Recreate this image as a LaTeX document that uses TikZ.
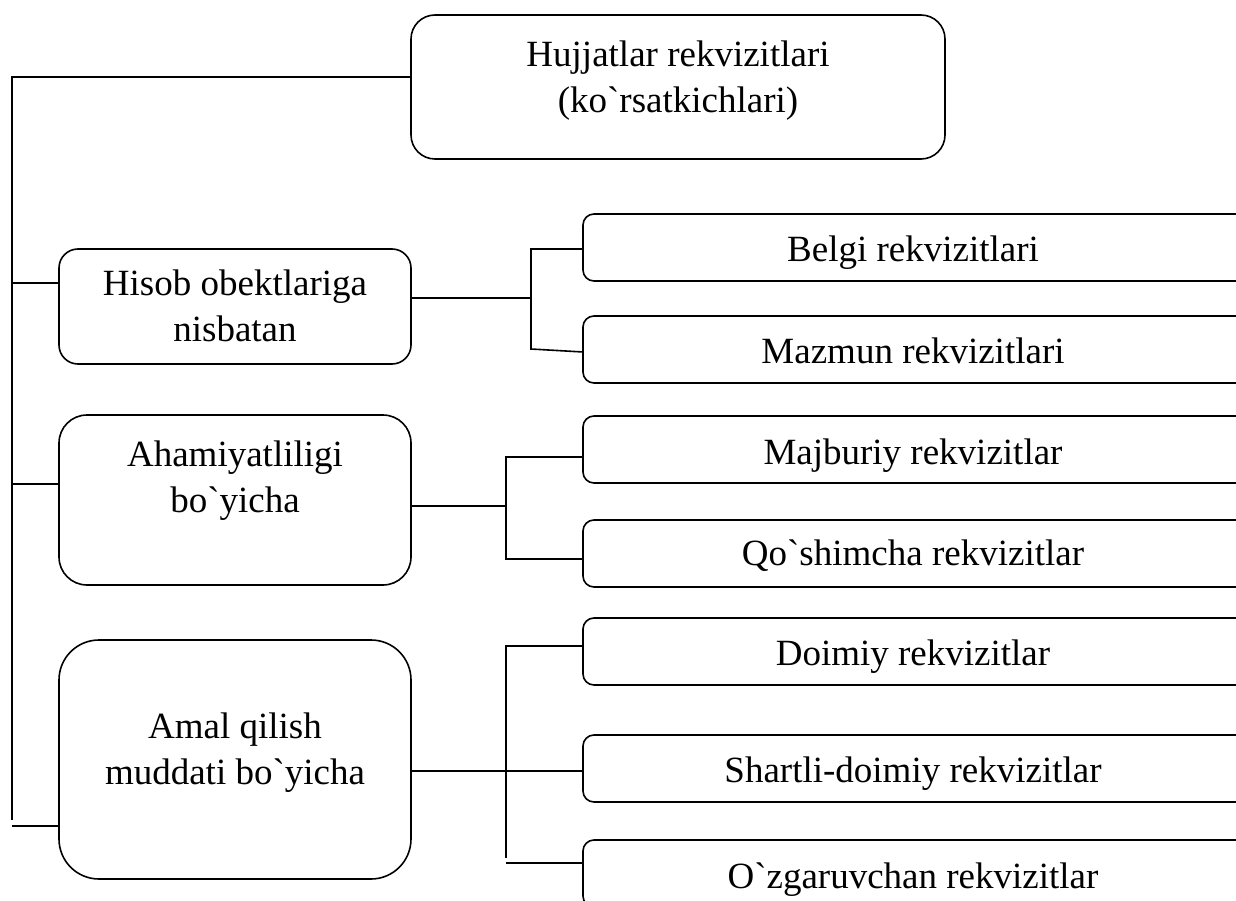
\documentclass[tikz,border=0pt]{standalone}
\usepackage{fontspec}
\setmainfont{Liberation Serif}[Ligatures=TeXOff]
\begin{document}
\begin{tikzpicture}[x=1pt,y=-1pt,
  frame/.style={draw, rectangle, line width=1.6pt, inner sep=0pt, outer sep=0pt},
  leftbox/.style={frame, minimum width=352pt},
  rightbox/.style={frame, minimum width=667pt, minimum height=67pt, rounded corners=11pt},
  lbl/.style={font=\fontsize{37}{46}\selectfont, align=center, inner sep=0pt, anchor=north},
  wire/.style={line width=1.6pt}]
\useasboundingbox (0,0) rectangle (1236,901);
\clip (0,0) rectangle (1236,901);

% main heading box
\node[frame, minimum width=534pt, minimum height=144pt, rounded corners=24pt] (root) at (678,87) {};
\node[lbl] (rootlbl) at (678,33.8) {Hujjatlar rekvizitlari\strut\\(ko`rsatkichlari)\strut};

% classification boxes on the left
\node[leftbox, minimum height=115pt, rounded corners=19pt] (hisob) at (235,306.5) {};
\node[lbl] (hisoblbl) at (235,262.8) {Hisob obektlariga\strut\\nisbatan\strut};

\node[leftbox, minimum height=170pt, rounded corners=28pt] (aham) at (235,500) {};
\node[lbl] (ahamlbl) at (235,433.8) {Ahamiyatliligi\strut\\bo`yicha\strut};

\node[leftbox, minimum height=239pt, rounded corners=40pt] (amal) at (235,759.5) {};
\node[lbl] (amallbl) at (235,705.8) {Amal qilish\strut\\muddati bo`yicha\strut};

% requisite boxes on the right
\node[rightbox] (belgi) at (916.5,247.5) {};
\node[lbl] (belgilbl) at (913,228.8) {Belgi rekvizitlari\strut};
\node[rightbox] (mazmun) at (916.5,349.5) {};
\node[lbl] (mazmunlbl) at (913,330.8) {Mazmun rekvizitlari\strut};

\node[rightbox] (majburiy) at (916.5,449.5) {};
\node[lbl] (majburiylbl) at (913,431.8) {Majburiy rekvizitlar\strut};
\node[rightbox] (qoshimcha) at (916.5,553.5) {};
\node[lbl] (qoshimchalbl) at (913,532.8) {Qo`shimcha rekvizitlar\strut};

\node[rightbox] (doimiy) at (916.5,651.5) {};
\node[lbl] (doimiylbl) at (913,632.8) {Doimiy rekvizitlar\strut};
\node[rightbox] (shartli) at (916.5,768.5) {};
\node[lbl] (shartlilbl) at (913,749.8) {Shartli-doimiy rekvizitlar\strut};
\node[rightbox] (ozgar) at (916.5,873.5) {};
\node[lbl] (ozgarlbl) at (913,855.8) {O`zgaruvchan rekvizitlar\strut};

% trunk on the left
\coordinate (t1) at (12,77);
\coordinate (t2) at (12,820);
\draw[wire] (root.west |- t1) -- (t1) -- (t2);
\coordinate (h1) at (12,283);
\draw[wire] (h1) -- (hisob.west |- h1);
\coordinate (a1) at (12,484);
\draw[wire] (a1) -- (aham.west |- a1);
\coordinate (m1) at (12,826);
\draw[wire] (m1) -- (amal.west |- m1);

% first fork
\coordinate (hf) at (531,298);
\coordinate (hft) at (531,249);
\coordinate (hfb) at (531,349);
\draw[wire] (hisob.east |- hf) -- (hf);
\draw[wire] (belgi.west |- hft) -- (hft) -- (hfb) -- ([yshift=-2.5pt]mazmun.west);

% second fork
\coordinate (af) at (506,506);
\coordinate (aft) at (506,457);
\coordinate (afb) at (506,559);
\draw[wire] (aham.east |- af) -- (af);
\draw[wire] (majburiy.west |- aft) -- (aft) -- (afb) -- (qoshimcha.west |- afb);

% third fork
\coordinate (mf) at (506,771);
\coordinate (mft) at (506,646);
\coordinate (mfb) at (506,858);
\coordinate (mfl) at (506,863);
\draw[wire] (amal.east |- mf) -- (shartli.west |- mf);
\draw[wire] (doimiy.west |- mft) -- (mft) -- (mfb);
\draw[wire] (mfl) -- (ozgar.west |- mfl);
\end{tikzpicture}
\end{document}
